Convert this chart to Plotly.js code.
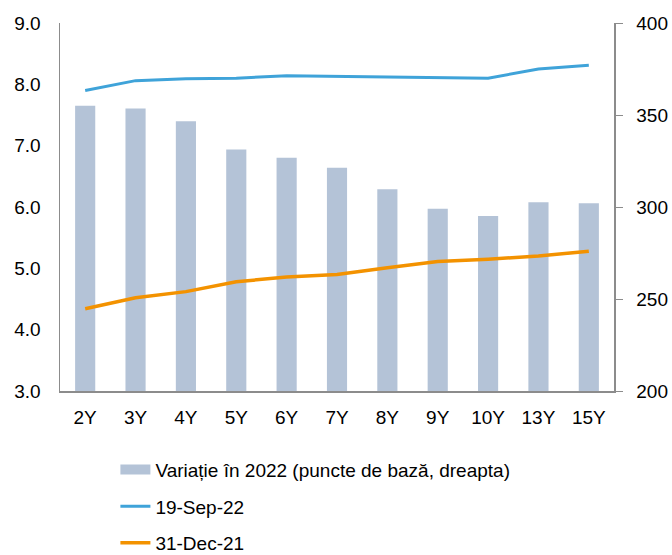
<!DOCTYPE html>
<html>
<head>
<meta charset="utf-8">
<script src="https://cdn.plot.ly/plotly-3.0.1.min.js"></script>
<style>html,body{margin:0;padding:0;background:#fff;}#chart{width:672px;height:555px;}</style>
</head>
<body>
<div id="chart"></div>
<script>
var categories = ['2Y','3Y','4Y','5Y','6Y','7Y','8Y','9Y','10Y','13Y','15Y'];
var change2022 = [355, 353.5, 346.6, 331.2, 326.7, 321.3, 309.7, 299.1, 295.1, 302.6, 302.1];
var sep22 = [7.90, 8.06, 8.09, 8.10, 8.14, 8.13, 8.11, 8.10, 8.10, 8.25, 8.31];
var dec21 = [4.34, 4.52, 4.62, 4.78, 4.86, 4.90, 5.01, 5.11, 5.15, 5.20, 5.28];
var seriesNames = ['Variație în 2022 (puncte de bază, dreapta)', '19-Sep-22', '31-Dec-21'];

var font = 'Liberation Sans, Arial, sans-serif';
var barColor = '#b4c3d7';
var traces = [
  {type:'bar', x:categories, y:change2022, name:seriesNames[0], yaxis:'y',
   marker:{color:barColor}, legendgroup:'a', showlegend:false},
  // legend entry for the bars, drawn as a wide swatch
  {type:'scatter', mode:'lines', x:[null], y:[null], name:seriesNames[0], yaxis:'y',
   line:{color:barColor, width:10}, legendgroup:'a', showlegend:true, hoverinfo:'skip'},
  {type:'scatter', mode:'lines', x:categories, y:sep22, name:seriesNames[1], yaxis:'y2',
   line:{color:'#3fa3d9', width:3}, legendgroup:'b'},
  {type:'scatter', mode:'lines', x:categories, y:dec21, name:seriesNames[2], yaxis:'y2',
   line:{color:'#f39200', width:3.5}, legendgroup:'c'}
];
var layout = {
  width:672, height:555,
  margin:{l:60, r:58, t:23, b:164, autoexpand:false},
  paper_bgcolor:'#fff', plot_bgcolor:'#fff',
  font:{family:font, size:19, color:'#000'},
  bargap:0.6,
  showlegend:true,
  legend:{orientation:'v', x:0.1, xanchor:'left', y:-0.162, yanchor:'top',
          traceorder:'grouped', tracegroupgap:9, font:{family:font, size:19},
          bgcolor:'rgba(0,0,0,0)'},
  xaxis:{type:'category', range:[-0.5,10.5], showline:true, linecolor:'#8c8c8c', linewidth:1.5,
         ticks:'', showgrid:false, zeroline:false, ticklabelstandoff:9},
  yaxis:{side:'right', range:[200,400], dtick:50, showline:true, linecolor:'#8c8c8c', linewidth:1.5,
         ticks:'outside', ticklen:7, tickcolor:'#8c8c8c', showgrid:false, zeroline:false,
         ticklabelstandoff:10},
  yaxis2:{overlaying:'y', side:'left', range:[3,9], dtick:1, tickformat:'.1f',
          showline:true, linecolor:'#8c8c8c', linewidth:1.5, ticks:'', showgrid:false,
          zeroline:false, ticklabelstandoff:14}
};
Plotly.newPlot('chart', traces, layout, {displayModeBar:false, staticPlot:true});
</script>
</body>
</html>
